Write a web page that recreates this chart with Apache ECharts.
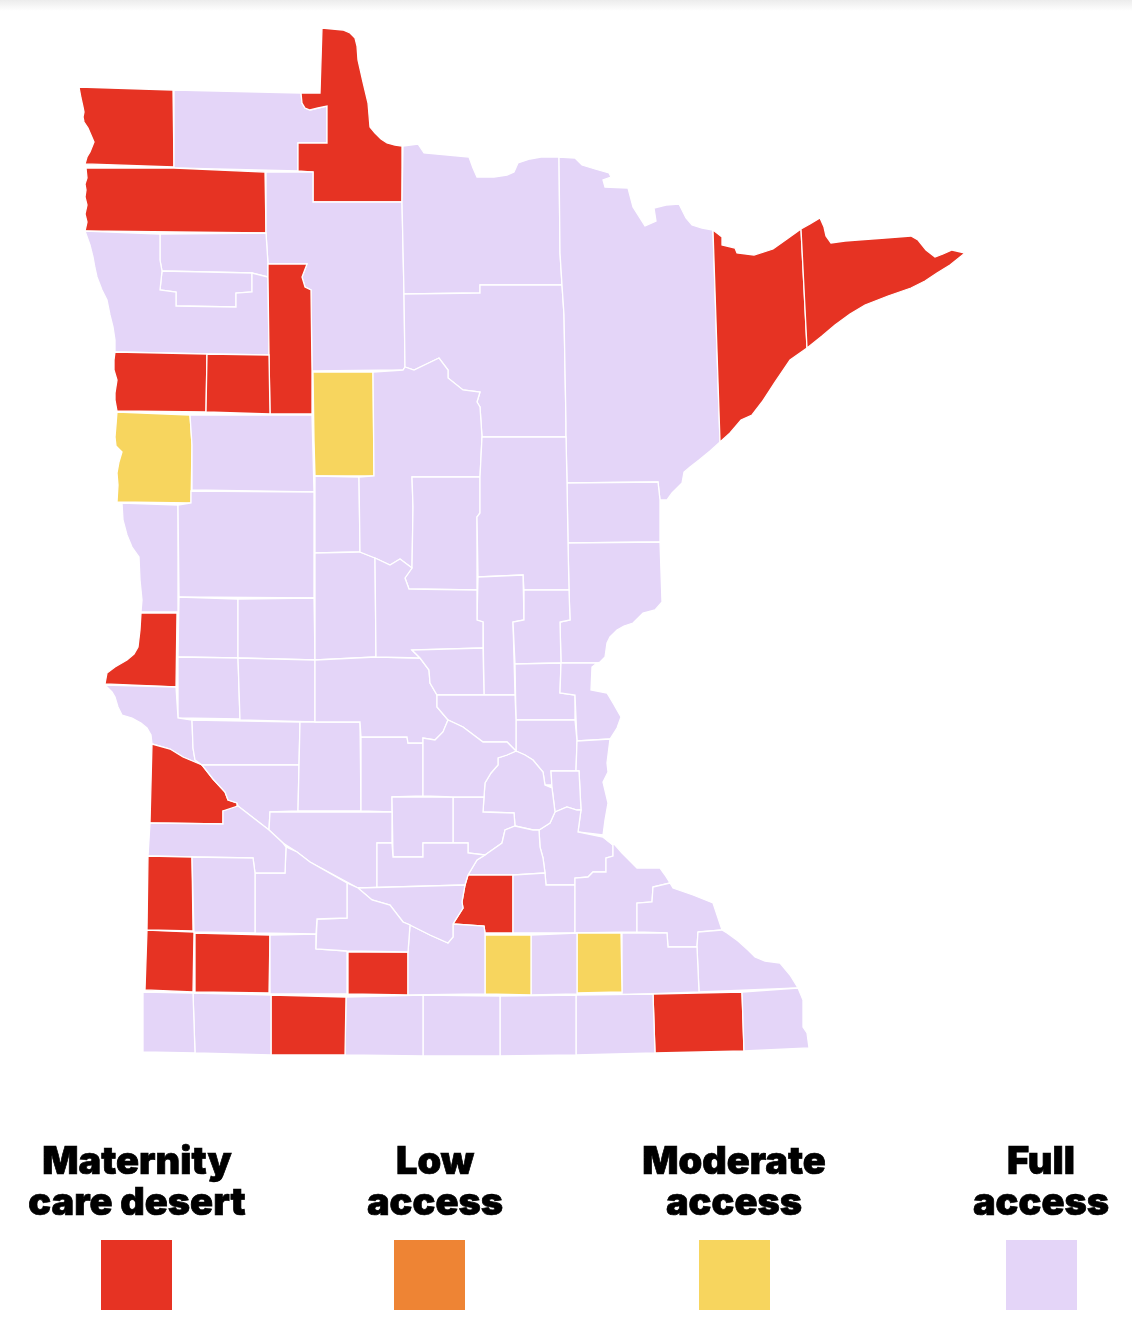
<!DOCTYPE html>
<html>
<head>
<meta charset="utf-8">
<title>Minnesota maternity care access</title>
<script src="https://cdn.jsdelivr.net/npm/echarts@6/dist/echarts.min.js"></script>
<style>
html, body { margin: 0; padding: 0; background: #fff; }
#main { width: 1132px; height: 1328px; filter: blur(0.5px); }
</style>
</head>
<body>
<div id="main"></div>
<script>
// legend order, labels and colours
var levelNames = ['Maternity care desert', 'Low access', 'Moderate access', 'Full access'];
var levelLines = [['Maternity', 'care desert'], ['Low', 'access'], ['Moderate', 'access'], ['Full', 'access']];
var levelColors = ['#E63323', '#EE8434', '#F7D55E', '#E4D5F8'];

// counties by level, anything not listed here is full access
var desertCounties = ['Kittson', 'Lake of the Woods', 'Marshall', 'Clearwater', 'Norman', 'Mahnomen', 'Lake', 'Cook',
    'Traverse', 'Lac qui Parle', 'Lincoln', 'Pipestone', 'Murray', 'Watonwan', 'Jackson', 'Le Sueur', 'Fillmore'];
var lowCounties = [];
var moderateCounties = ['Hubbard', 'Clay', 'Waseca', 'Dodge'];

// county outlines, [x, y] with y going down
var countyShapes = {
    'Kittson': [[79,87],[173,90],[174,167],[85,164],[87,157],[90,152],[94,142],[91,135],[88,128],[84,122],[83,117],[84,112],[83,107],[81,98]],
    'Roseau': [[174,90],[301,93],[302,103],[305,108],[310,110],[318,108],[327,106],[327,143],[298,143],[298,171],[174,168]],
    'Lake of the Woods': [[322,28],[343,30],[350,33],[355,38],[357,46],[358,60],[363,82],[368,103],[369,115],[370,127],[375,133],[381,139],[387,143],[395,145],[402,146],[402,202],[313,202],[313,172],[298,171],[298,143],[327,143],[327,106],[318,108],[310,110],[305,108],[302,103],[301,93],[320,93]],
    'Marshall': [[86,168],[174,168],[265,172],[266,233],[85,231],[87,222],[85,214],[87,205],[85,197],[86,190],[85,184],[87,178]],
    'Beltrami': [[266,172],[313,172],[313,202],[402,202],[404,294],[405,367],[403,370],[312,371],[311,290],[305,287],[302,277],[307,264],[268,264],[266,233]],
    'Pennington': [[160,234],[266,233],[268,264],[268,277],[252,273],[162,271],[160,260]],
    'Red Lake': [[162,271],[252,273],[252,292],[236,293],[236,307],[176,306],[176,292],[160,290]],
    'Polk': [[85,231],[160,234],[160,260],[162,271],[160,290],[176,292],[176,306],[236,307],[236,293],[252,292],[252,273],[268,277],[269,355],[207,354],[115,352],[115,340],[113,327],[110,315],[107,300],[102,290],[97,277],[95,268],[93,257],[90,245]],
    'Clearwater': [[268,264],[307,264],[302,277],[305,287],[311,290],[312,371],[312,414],[270,414],[269,355],[268,277]],
    'Norman': [[115,352],[207,354],[206,412],[117,411],[115,400],[115,393],[117,380],[114,370],[114,360]],
    'Mahnomen': [[207,354],[269,355],[270,414],[206,412]],
    'Clay': [[117,412],[190,415],[192,445],[191,503],[117,502],[118,485],[117,473],[119,462],[122,452],[116,446],[115,437],[116,425]],
    'Hubbard': [[313,372],[373,372],[374,476],[315,476],[314,440]],
    'Becker': [[190,415],[312,415],[314,492],[192,490],[192,445]],
    'Wilkin': [[122,503],[178,505],[178,612],[141,612],[142,600],[140,580],[139,557],[132,547],[127,535],[123,520]],
    'Otter Tail': [[191,491],[314,492],[314,598],[179,597],[178,505],[191,503]],
    'Grant': [[179,597],[238,599],[238,658],[178,657]],
    'Douglas': [[238,599],[314,598],[315,660],[238,658]],
    'Traverse': [[141,613],[177,613],[176,687],[105,684],[107,673],[115,667],[127,660],[134,654],[138,647],[140,630]],
    'Stevens': [[178,657],[238,658],[240,719],[178,718]],
    'Pope': [[238,658],[315,660],[315,722],[240,720]],
    'Wadena': [[315,476],[359,477],[360,552],[315,553]],
    'Todd': [[315,553],[360,552],[375,558],[376,657],[315,660]],
    'Koochiching': [[403,146],[418,144],[424,153],[469,157],[473,168],[477,177],[494,177],[507,175],[514,172],[518,163],[530,159],[541,157],[559,157],[560,253],[562,285],[480,285],[480,293],[404,294],[402,202]],
    'Itasca': [[404,294],[480,293],[480,285],[562,285],[564,315],[566,423],[566,437],[482,437],[480,407],[477,402],[480,392],[463,390],[448,378],[448,370],[439,358],[414,370],[405,367]],
    'Cass': [[373,372],[403,370],[405,367],[414,370],[439,358],[448,370],[448,378],[463,390],[480,392],[477,402],[480,407],[482,437],[480,477],[412,477],[413,507],[412,568],[400,559],[390,565],[375,558],[360,552],[359,477],[374,476]],
    'Crow Wing': [[412,477],[480,477],[480,513],[477,517],[477,590],[409,589],[405,578],[412,568],[413,507]],
    'St. Louis': [[559,157],[575,158],[582,165],[595,169],[609,173],[611,177],[603,180],[605,187],[628,188],[633,207],[645,226],[656,221],[654,208],[666,205],[679,204],[686,218],[692,225],[702,228],[713,230],[720,442],[710,451],[699,460],[690,467],[684,472],[682,483],[672,493],[667,500],[660,500],[658,482],[567,483],[566,437],[566,423],[564,315],[562,285],[560,253]],
    'Lake': [[713,230],[722,237],[722,245],[735,248],[737,253],[754,255],[773,249],[787,239],[801,229],[807,348],[790,360],[775,382],[762,402],[752,415],[741,420],[730,433],[720,442]],
    'Cook': [[801,229],[810,224],[820,218],[824,227],[826,236],[831,243],[845,241],[858,240],[885,238],[911,236],[918,240],[926,250],[935,257],[943,254],[952,250],[965,253],[950,265],[937,273],[925,281],[911,288],[888,296],[865,305],[850,314],[835,325],[822,336],[807,348]],
    'Carlton': [[567,483],[658,482],[660,500],[660,542],[568,543]],
    'Pine': [[568,543],[660,542],[662,602],[655,610],[643,613],[633,623],[624,626],[617,630],[610,637],[607,643],[606,650],[605,657],[600,662],[597,663],[561,663],[560,622],[570,620],[569,590]],
    'Aitkin': [[482,437],[566,437],[567,483],[568,543],[569,590],[524,590],[523,575],[478,577],[477,517],[480,513],[480,477]],
    'Mille Lacs': [[478,577],[523,575],[524,620],[513,622],[515,695],[484,695],[483,622],[477,620]],
    'Kanabec': [[524,590],[569,590],[570,620],[560,622],[561,663],[515,664],[513,622],[524,620]],
    'Isanti': [[515,664],[561,663],[560,693],[575,695],[575,720],[516,720]],
    'Chisago': [[561,663],[597,663],[592,667],[591,690],[607,693],[613,703],[621,717],[617,728],[610,739],[577,741],[575,695],[560,693]],
    'Anoka': [[516,720],[575,720],[577,741],[576,771],[551,771],[552,785],[545,785],[543,772],[533,760],[525,755],[516,751]],
    'Washington': [[577,741],[610,739],[607,763],[608,772],[603,782],[608,803],[605,820],[603,835],[578,832],[581,810],[579,771],[576,771]],
    'Ramsey': [[551,771],[579,771],[581,810],[577,810],[567,807],[555,812],[552,788]],
    'Dakota': [[567,807],[577,810],[581,810],[578,832],[603,837],[613,845],[613,856],[606,858],[606,872],[593,872],[588,877],[575,878],[575,885],[546,885],[545,873],[543,858],[540,847],[539,830],[550,823],[555,812]],
    'Hennepin': [[516,751],[525,755],[533,760],[543,772],[545,785],[552,788],[555,812],[550,823],[539,830],[533,830],[515,826],[514,813],[483,812],[484,797],[485,783],[491,773],[498,765],[498,758],[507,755]],
    'Carver': [[453,797],[484,797],[483,812],[514,813],[515,826],[505,830],[502,843],[485,855],[468,853],[468,843],[453,843]],
    'Scott': [[485,855],[502,843],[505,830],[515,826],[533,830],[539,830],[540,847],[543,858],[545,873],[515,875],[468,875],[477,860]],
    'Le Sueur': [[468,875],[513,875],[513,933],[485,933],[484,926],[453,924],[463,908],[462,902],[465,885]],
    'Rice': [[513,875],[545,873],[546,885],[575,885],[575,933],[513,933]],
    'Goodhue': [[575,885],[575,878],[588,877],[593,872],[606,872],[606,858],[613,856],[613,845],[603,837],[615,845],[622,853],[627,858],[637,868],[660,868],[665,875],[670,883],[653,887],[652,902],[637,903],[637,932],[575,933]],
    'Wabasha': [[653,887],[670,883],[673,888],[693,895],[713,903],[717,915],[722,930],[698,932],[697,947],[668,947],[667,933],[637,932],[637,903],[652,902]],
    'Winona': [[698,932],[722,930],[727,933],[738,941],[748,950],[755,957],[765,961],[780,963],[790,975],[798,988],[699,992],[697,947]],
    'Olmsted': [[622,933],[667,933],[668,947],[697,947],[699,992],[622,995]],
    'Dodge': [[577,933],[621,933],[622,992],[577,993]],
    'Steele': [[531,935],[577,933],[577,994],[531,995]],
    'Waseca': [[485,935],[531,935],[531,995],[485,994]],
    'Fillmore': [[653,994],[742,992],[744,1051],[655,1053]],
    'Houston': [[742,992],[798,988],[803,1000],[803,1027],[807,1033],[809,1048],[744,1051]],
    'Mower': [[576,995],[653,994],[655,1053],[576,1055]],
    'Freeborn': [[500,996],[576,995],[576,1055],[500,1056]],
    'Faribault': [[423,995],[500,996],[500,1056],[423,1056]],
    'Martin': [[346,997],[423,995],[423,1056],[345,1055]],
    'Jackson': [[271,995],[346,997],[345,1055],[271,1055]],
    'Nobles': [[193,993],[271,995],[271,1055],[195,1053]],
    'Rock': [[143,992],[193,993],[195,1053],[143,1052]],
    'Pipestone': [[147,930],[194,932],[193,992],[145,990]],
    'Murray': [[195,933],[270,935],[269,993],[195,992]],
    'Cottonwood': [[270,935],[316,934],[316,949],[347,951],[347,994],[270,994]],
    'Watonwan': [[348,952],[408,952],[408,995],[348,994]],
    'Blue Earth': [[410,925],[430,935],[448,943],[453,937],[453,924],[484,926],[485,933],[485,994],[408,995],[408,952]],
    'Big Stone': [[105,685],[176,687],[178,718],[192,720],[193,748],[195,760],[202,765],[183,757],[170,749],[152,744],[151,735],[147,728],[141,723],[132,718],[122,715],[118,707],[115,697],[112,692]],
    'Lac qui Parle': [[152,744],[170,749],[183,757],[202,765],[213,779],[225,792],[228,800],[237,803],[237,809],[223,811],[223,824],[150,823]],
    'Swift': [[192,720],[300,722],[299,765],[202,765],[195,760],[193,748]],
    'Chippewa': [[202,765],[299,765],[298,811],[270,812],[269,830],[238,806],[237,803],[228,800],[225,792],[213,779]],
    'Kandiyohi': [[300,722],[360,722],[361,811],[298,811]],
    'Meeker': [[361,737],[407,737],[408,743],[423,743],[423,796],[392,797],[392,812],[361,811]],
    'McLeod': [[392,797],[453,797],[453,843],[423,843],[423,857],[393,857]],
    'Stearns': [[315,660],[376,657],[420,658],[429,670],[430,683],[437,695],[437,707],[448,720],[443,732],[435,740],[423,738],[423,743],[408,743],[407,737],[361,737],[360,722],[315,722]],
    'Morrison': [[375,558],[390,565],[400,559],[412,568],[405,578],[409,589],[477,590],[477,620],[483,622],[483,648],[412,650],[420,658],[376,657]],
    'Benton': [[412,650],[483,648],[484,695],[437,695],[430,683],[429,670],[420,658]],
    'Sherburne': [[437,695],[484,695],[515,695],[516,720],[516,751],[507,742],[483,742],[463,727],[448,720],[437,707]],
    'Wright': [[423,743],[423,738],[435,740],[443,732],[448,720],[463,727],[483,742],[507,742],[516,751],[507,755],[498,758],[498,765],[491,773],[485,783],[484,797],[453,797],[423,796]],
    'Renville': [[270,812],[392,812],[392,843],[377,843],[377,888],[358,888],[347,882],[310,862],[297,852],[283,843],[269,830]],
    'Sibley': [[377,843],[392,843],[393,857],[423,857],[423,843],[468,843],[468,853],[485,855],[477,860],[468,875],[465,885],[358,888],[377,888]],
    'Nicollet': [[358,888],[465,885],[462,902],[463,908],[453,924],[453,937],[448,943],[430,935],[410,925],[403,922],[390,905],[372,900]],
    'Brown': [[347,883],[358,888],[372,900],[390,905],[403,922],[410,925],[408,952],[347,951],[316,949],[317,919],[347,918]],
    'Redwood': [[255,873],[285,873],[286,847],[297,852],[310,862],[347,883],[347,918],[317,919],[316,934],[255,933]],
    'Yellow Medicine': [[150,823],[223,824],[223,811],[238,806],[269,830],[283,843],[286,847],[285,873],[255,873],[253,858],[192,857],[148,856]],
    'Lincoln': [[148,856],[192,857],[193,931],[147,930]],
    'Lyon': [[192,857],[253,858],[255,873],[255,933],[194,932]]
};

function levelOf(name) {
    if (desertCounties.indexOf(name) != -1) return 0;
    if (lowCounties.indexOf(name) != -1) return 1;
    if (moderateCounties.indexOf(name) != -1) return 2;
    return 3;
}

function buildGeoJson() {
    var features = [];
    for (var name in countyShapes) {
        var ring = countyShapes[name].map(function(p) { return [p[0], -p[1]]; });
        ring.push(ring[0]);
        features.push({
            type: 'Feature',
            properties: { name: name },
            geometry: { type: 'Polygon', coordinates: [ring] }
        });
    }
    return { type: 'FeatureCollection', features: features };
}

function buildRegionData() {
    var data = [];
    for (var name in countyShapes) {
        var level = levelOf(name);
        data.push({ name: name, value: level, itemStyle: { areaColor: levelColors[level] } });
    }
    return data;
}

function buildLegend() {
    var centers = [137, 435, 734, 1041];
    var boxes = [101, 394, 699, 1006];
    var items = [{
        type: 'rect',
        shape: { x: 0, y: 0, width: 1132, height: 11 },
        style: { fill: new echarts.graphic.LinearGradient(0, 0, 0, 1, [
            { offset: 0, color: '#ececec' },
            { offset: 1, color: '#ffffff' }
        ]) }
    }];
    for (var i = 0; i < levelNames.length; i++) {
        items.push({
            type: 'text',
            x: centers[i],
            y: 1142,
            style: {
                text: levelLines[i].join('\n'),
                fill: '#000',
                stroke: '#000',
                lineWidth: 0.7,
                font: '900 38px Inter',
                lineHeight: 41,
                align: 'center',
                verticalAlign: 'top'
            }
        });
        items.push({
            type: 'rect',
            shape: { x: boxes[i], y: 1240, width: 71, height: 70 },
            style: { fill: levelColors[i] }
        });
    }
    return items;
}

echarts.registerMap('minnesota', buildGeoJson());
var chart = echarts.init(document.getElementById('main'), null, { renderer: 'canvas' });
chart.setOption({
    animation: false,
    backgroundColor: '#ffffff',
    graphic: { elements: buildLegend() },
    series: [{
        type: 'map',
        map: 'minnesota',
        roam: false,
        silent: true,
        aspectScale: 1,
        left: 79,
        top: 28,
        width: 886,
        height: 1028,
        label: { show: false },
        emphasis: { disabled: true },
        itemStyle: { borderColor: '#ffffff', borderWidth: 1.3 },
        data: buildRegionData()
    }]
});
</script>
</body>
</html>
